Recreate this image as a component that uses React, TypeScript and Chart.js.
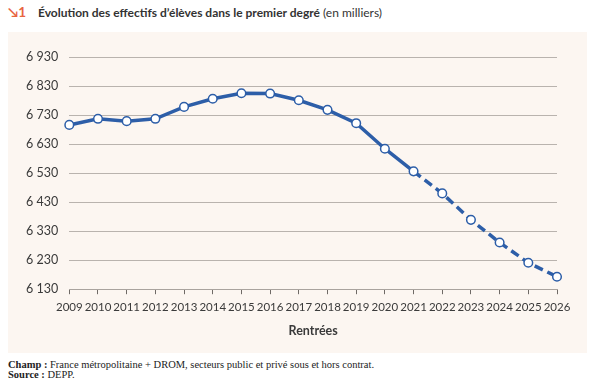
import React, { useEffect, useRef } from "react";
import { Chart, registerables } from "chart.js";

Chart.register(...registerables);

const years = ["2009","2010","2011","2012","2013","2014","2015","2016","2017","2018","2019","2020","2021","2022","2023","2024","2025","2026"];
const effectifs = [6696, 6717, 6709, 6717, 6758, 6786, 6805, 6804, 6781, 6748, 6702, 6614, 6536, 6460, 6369, 6291, 6221, 6173];
const lastObservedIndex = 12; // 2021: projections after
const yMin = 6130;
const yMax = 6930;
const yStep = 100;

const BLUE = "#2d5ea8";
const TEXT = "#3a3a3a";

export default function App() {
  const ref = useRef<HTMLCanvasElement | null>(null);

  useEffect(() => {
    document.body.style.margin = "0";
    const ctx = ref.current!;
    const chart = new Chart(ctx, {
      type: "line",
      data: {
        labels: years,
        datasets: [
          {
            data: effectifs,
            borderColor: BLUE,
            borderWidth: 3.5,
            pointRadius: 4.3,
            pointBorderWidth: 1.5,
            pointBackgroundColor: "#ffffff",
            pointBorderColor: BLUE,
            tension: 0,
            segment: {
              borderDash: (c: any) => (c.p0DataIndex >= lastObservedIndex ? [9, 5] : undefined),
            },
          },
        ],
      },
      options: {
        animation: false,
        responsive: false,
        maintainAspectRatio: false,
        layout: { padding: { top: 25, right: 30, bottom: 15, left: 0 } },
        plugins: { legend: { display: false }, tooltip: { enabled: false } },
        scales: {
          x: {
            grid: { drawOnChartArea: false, drawTicks: true, tickLength: 5, color: "#6f6a66", lineWidth: 1 },
            border: { display: true, color: "#a9a39e", width: 1 },
            ticks: {
              color: TEXT,
              font: { family: "Lato", size: 11.5 },
              padding: 6,
              autoSkip: false,
              maxRotation: 0,
            },
            title: {
              display: true,
              text: "Rentrées",
              color: TEXT,
              font: { family: "Lato", size: 12.5, weight: "bold" },
              padding: { top: 3, bottom: 0 },
            },
          },
          y: {
            min: yMin,
            max: yMax,
            afterFit: (s: any) => { s.width = 61.3; },
            grid: { color: "#b9b3ae", lineWidth: 1, drawTicks: false },
            border: { display: false },
            ticks: {
              stepSize: yStep,
              color: TEXT,
              padding: 11,
              font: { family: "Lato", size: 12.5 },
              callback: (v: any) => {
                const s = String(v);
                return s.length > 3 ? s.slice(0, s.length - 3) + " " + s.slice(-3) : s;
              },
            },
          },
        },
      },
    });
    return () => chart.destroy();
  }, []);

  return (
    <div style={{ position: "relative", width: 590, height: 385, background: "#ffffff", overflow: "hidden" }}>
      <div
        style={{
          position: "absolute",
          left: 8,
          top: 4,
          fontFamily: "Lato, sans-serif",
          fontSize: 12,
          lineHeight: "16px",
          color: "#333",
          whiteSpace: "nowrap",
        }}
      >
        <span style={{ color: "#e8653f", fontWeight: 700, fontSize: 13.5, marginRight: 12 }}>↘1</span>
        <span style={{ fontWeight: 700 }}>Évolution des effectifs d’élèves dans le premier degré</span>
        <span> (en milliers)</span>
      </div>
      <div style={{ position: "absolute", left: 8, top: 32, width: 579, height: 321, background: "#fcf6f1" }}>
        <canvas ref={ref} width={579} height={321} style={{ display: "block" }} />
      </div>
      <div
        style={{
          position: "absolute",
          left: 8,
          top: 360,
          fontFamily: "'Liberation Serif', 'DejaVu Serif', serif",
          fontSize: 10.5,
          lineHeight: "10px",
          color: "#222",
          whiteSpace: "nowrap",
        }}
      >
        <div><b>Champ :</b> France métropolitaine + DROM, secteurs public et privé sous et hors contrat.</div>
        <div><b>Source :</b> DEPP.</div>
      </div>
    </div>
  );
}
